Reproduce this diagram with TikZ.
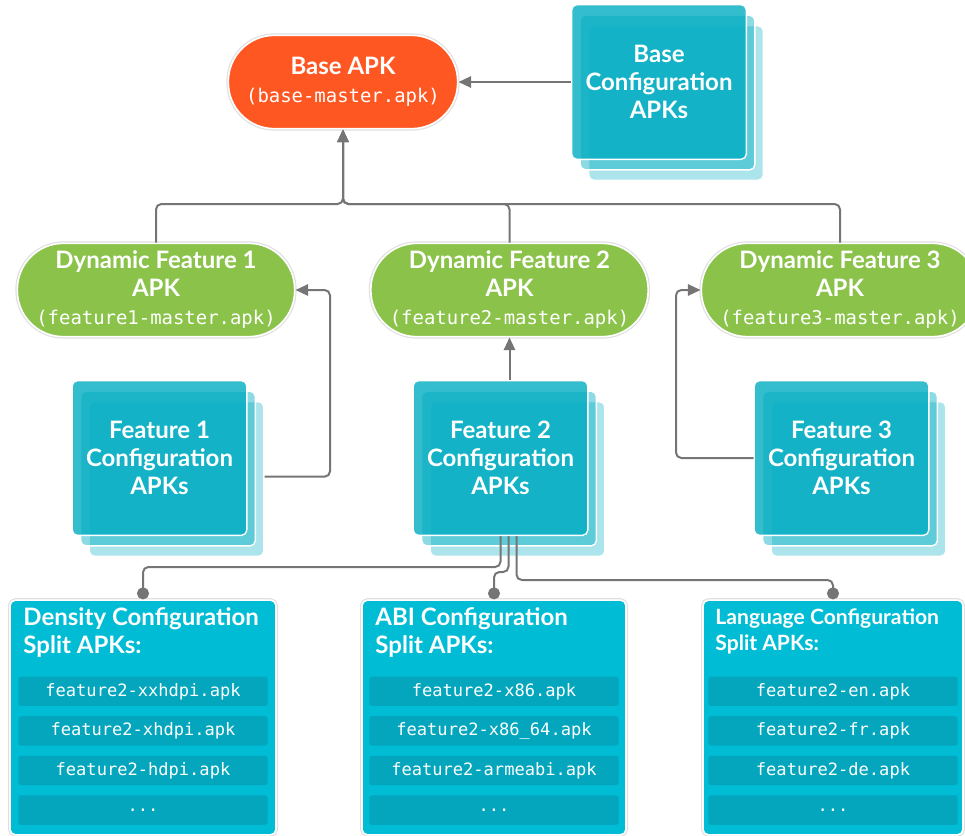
\documentclass[tikz,border=0pt]{standalone}
\usepackage{fontspec}
\setmainfont{Lato}
\setmonofont{DejaVu Sans Mono}
\usepackage{tikz}
\usetikzlibrary{
        shadows,
        positioning,
        arrows.meta
    }
\definecolor{apkorange}{HTML}{FF5722}
\definecolor{apkgreen}{HTML}{8BC34A}
\definecolor{apkteal}{HTML}{00ACC1}
\definecolor{apkcyan}{HTML}{00BCD4}
\definecolor{apkrow}{HTML}{03A6BC}
\definecolor{apkline}{HTML}{757575}
\newcommand{\apktitle}{\fontsize{18}{21}\selectfont\bfseries}
\newcommand{\apkmono}{\fontsize{14.2}{21}\selectfont\mdseries\ttfamily}
\newcommand{\apkfile}{\fontsize{12.8}{15}\selectfont\ttfamily}

\begin{document}
\begin{tikzpicture}
[x=0.75pt, y=-0.75pt,
pillshape/.style={rectangle, rounded corners=34.5pt, minimum height=70pt, inner sep=1pt, text=white, align=center, font=\apktitle, draw=white, line width=1.2pt, preaction={draw=black!12, line width=3pt}},
basepill/.style={pillshape, fill=apkorange, minimum width=172pt},
featurepill/.style={pillshape, fill=apkgreen, minimum width=208pt},
stackbox/.style={rectangle, rounded corners=4pt, minimum width=131pt, minimum height=116pt, fill=apkteal, fill opacity=0.8, text opacity=1, draw=white, line width=1pt, text=white, align=center, font=\apktitle,
  copy shadow={shadow xshift=12.75pt, shadow yshift=-15.75pt, fill opacity=0.33},
  copy shadow={shadow xshift=6.4pt, shadow yshift=-7.9pt, fill opacity=0.45}},
splitbox/.style={rectangle, rounded corners=4pt, minimum height=176pt, fill=apkcyan, draw=white, line width=1.2pt, preaction={draw=black!12, line width=3pt}},
splittitle/.style={inner sep=0pt, text=white, align=left, font=\apktitle},
filerow/.style={rectangle, rounded corners=2pt, minimum width=187pt, minimum height=22pt, inner sep=0pt, fill=apkrow, text=white, font=\apkfile},
arrow/.style={draw=apkline, line width=1.5pt, rounded corners=4pt, -{Triangle[length=9.5pt, width=8.5pt]}},
dotline/.style={draw=apkline, line width=1.5pt, rounded corners=4pt, -{Circle[length=9pt]}},
node distance=7.3pt]
    \useasboundingbox (0,0) rectangle (965,836);
    \node (base) [basepill] at (343,82) {Base APK\\{\apkmono (base-master.apk)}};
    \node (baseconf) [stackbox] at (659,82) {Base\\Configuration\\APKs};
    \node (df1) [featurepill] at (156,290) {Dynamic Feature 1\\APK\\{\apkmono (feature1-master.apk)}};
    \node (df2) [featurepill] at (509.5,290) {Dynamic Feature 2\\APK\\{\apkmono (feature2-master.apk)}};
    \node (df3) [featurepill] at (840,290) {Dynamic Feature 3\\APK\\{\apkmono (feature3-master.apk)}};
    \node (conf1) [stackbox] at (159.5,458) {Feature 1\\Configuration\\APKs};
    \node (conf2) [stackbox] at (500.5,458) {Feature 2\\Configuration\\APKs};
    \node (conf3) [stackbox] at (841.5,458) {Feature 3\\Configuration\\APKs};

    \node (density) [splitbox, minimum width=199.5pt] at (143,717.5) {};
    \node (densitytitle) [splittitle, below right=6pt and 10.5pt of density.north west] {Density Configuration\\Split APKs:};
    \node (dens1) [filerow, below=57.75pt of density.north] {feature2-xxhdpi.apk};
    \node (dens2) [filerow, below=of dens1] {feature2-xhdpi.apk};
    \node (dens3) [filerow, below=of dens2] {feature2-hdpi.apk};
    \node (dens4) [filerow, below=of dens3] {...};

    \node (abi) [splitbox, minimum width=198pt] at (494,717.5) {};
    \node (abititle) [splittitle, below right=6pt and 10.5pt of abi.north west] {ABI Configuration\\Split APKs:};
    \node (abi1) [filerow, below=57.75pt of abi.north] {feature2-x86.apk};
    \node (abi2) [filerow, below=of abi1] {feature2-x86\_64.apk};
    \node (abi3) [filerow, below=of abi2] {feature2-armeabi.apk};
    \node (abi4) [filerow, below=of abi3] {...};

    \node (lang) [splitbox, minimum width=195pt] at (833,717.5) {};
    \node (langtitle) [splittitle, font=\fontsize{15.8}{19}\selectfont\bfseries, below right=7pt and 9.75pt of lang.north west] {Language Configuration\\Split APKs:};
    \node (lang1) [filerow, below=57.75pt of lang.north] {feature2-en.apk};
    \node (lang2) [filerow, below=of lang1] {feature2-fr.apk};
    \node (lang3) [filerow, below=of lang2] {feature2-de.apk};
    \node (lang4) [filerow, below=of lang3] {...};

    \coordinate (bus) at (343,204);
    \coordinate (turn1) at (330,290);
    \coordinate (turn3) at (676,290);
    \draw[arrow] (baseconf.west) -- (base.east);
    \draw[arrow] (df1.north) |- (bus) -- (base.south);
    \draw[arrow] (df2.north) |- (bus) -- (base.south);
    \draw[arrow] (df3.north) |- (bus) -- (base.south);
    \draw[arrow] ([xshift=12.75pt, yshift=-14pt]conf1.east) -| (turn1) -- (df1.east);
    \draw[arrow] (df2.south |- conf2.north) -- (df2.south);
    \draw[arrow] (conf3.west) -| (turn3) -- (df3.west);
    \draw[dotline] (conf2.south) -- ++(0,31) -| (density.north);
    \draw[dotline] ([xshift=6pt]conf2.south) -- ++(0,36) -| (abi.north);
    \draw[dotline] ([xshift=12pt]conf2.south) -- ++(0,44) -| (lang.north);
\end{tikzpicture}
\end{document}
